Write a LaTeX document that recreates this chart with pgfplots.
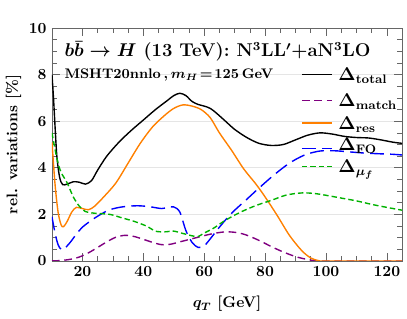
\documentclass[border=0pt]{standalone}
\usepackage{pgfplots}
\pgfplotsset{compat=1.18}
\definecolor{myorange}{rgb}{1,0.5,0}
\definecolor{mypurple}{rgb}{0.5,0,0.5}
\definecolor{myblue}{rgb}{0,0,1}
\definecolor{mygreen}{rgb}{0,0.7,0}
\tikzset{
  sTotal/.style={color=black, line width=0.9pt},
  sMatch/.style={color=mypurple, line width=0.9pt, dash pattern=on 5pt off 3pt},
  sRes/.style={color=myorange, line width=0.9pt},
  sFO/.style={color=myblue, line width=0.9pt, dash pattern=on 9pt off 4pt},
  sMu/.style={color=mygreen, line width=0.9pt, dash pattern=on 3.5pt off 2pt},
  legtext/.style={anchor=base west, font=\large\bfseries\boldmath, inner sep=0pt, text=black},
}
\begin{document}
\begin{tikzpicture}[font=\bfseries\boldmath]
\begin{axis}[
  scale only axis,
  width=227pt, height=151pt,
  xmin=10, xmax=125, ymin=0, ymax=10,
  xtick={20,40,60,80,100,120},
  ytick={0,2,4,6,8,10},
  minor x tick num=3, minor y tick num=3,
  tick align=inside,
  major tick length=5pt, minor tick length=3pt,
  every tick/.style={black!60},
  axis line style={black!60},
  ymajorgrids, grid style={black!10},
  xlabel={$q_T$ [GeV]}, ylabel={rel. variations [\%]},
  tick label style={font=\normalsize\bfseries\boldmath},
  label style={font=\normalsize\bfseries\boldmath},
  xlabel style={yshift=-6pt},
  ylabel style={yshift=-2pt},
]
\addplot[smooth, tension=0.5, sTotal] coordinates {(10,8.0) (10.5,7.0) (11,5.8) (11.6,4.5) (12.5,3.6) (13.5,3.28) (15,3.3) (17,3.4) (19,3.38) (21,3.3) (23,3.45) (25,3.9) (28,4.5) (32,5.1) (36,5.6) (40,6.05) (44,6.5) (48,6.9) (50,7.1) (52,7.2) (54,7.1) (56,6.85) (58,6.72) (60,6.65) (62,6.55) (64,6.35) (67,6.0) (70,5.65) (74,5.3) (78,5.05) (82,4.96) (86,5.0) (90,5.2) (94,5.4) (98,5.5) (102,5.45) (106,5.35) (110,5.3) (114,5.28) (118,5.2) (122,5.1) (125,5.05)};
\addplot[smooth, tension=0.5, sMatch] coordinates {(10,0) (13,0.02) (16,0.07) (19,0.17) (22,0.35) (25,0.58) (28,0.82) (31,1.02) (34,1.1) (37,1.05) (40,0.93) (43,0.8) (46,0.7) (49,0.72) (52,0.82) (55,0.92) (58,1.02) (61,1.12) (64,1.2) (67,1.25) (70,1.23) (73,1.15) (76,1.0) (79,0.82) (82,0.62) (85,0.44) (88,0.28) (91,0.15) (94,0.06) (97,0.0) (100,0) (125,0)};
\addplot[smooth, tension=0.5, sRes] coordinates {(10,5.1) (11,3.3) (12,2.1) (13,1.55) (13.8,1.47) (15,1.7) (16.5,2.1) (18,2.3) (20,2.25) (22,2.2) (24,2.35) (27,2.75) (31,3.35) (35,4.2) (39,5.05) (43,5.75) (47,6.25) (50,6.55) (53,6.7) (56,6.65) (59,6.5) (62,6.15) (65,5.5) (69,4.75) (73,3.95) (77,3.3) (80,2.75) (84,1.95) (88,1.1) (92,0.45) (95,0.13) (98,0) (100,0) (125,0)};
\addplot[smooth, tension=0.5, sFO] coordinates {(10,1.9) (11,1.2) (12,0.7) (13,0.5) (14,0.52) (16,0.8) (18,1.15) (20,1.45) (23,1.75) (26,2.0) (29,2.2) (33,2.32) (38,2.37) (42,2.33) (46,2.25) (48,2.3) (50,2.32) (52,2.1) (54,1.3) (56,0.8) (58,0.58) (60,0.65) (62,0.95) (65,1.45) (69,2.05) (74,2.65) (78,3.13) (83,3.7) (88,4.2) (93,4.55) (98,4.72) (103,4.73) (108,4.68) (113,4.63) (118,4.6) (122,4.58) (125,4.55)};
\addplot[smooth, tension=0.5, sMu] coordinates {(10,5.5) (11,4.8) (12,4.2) (13,3.8) (15,3.35) (17,2.75) (19,2.35) (21,2.12) (24,2.05) (29,2.0) (33,1.85) (37,1.7) (41,1.5) (44,1.28) (47,1.25) (50,1.28) (53,1.18) (56,1.08) (58,1.05) (60,1.2) (63,1.4) (67,1.75) (72,2.1) (77,2.38) (82,2.6) (87,2.83) (92,2.92) (96,2.9) (100,2.82) (105,2.7) (110,2.58) (115,2.43) (120,2.3) (125,2.18)};
\coordinate (LA) at (rel axis cs:0.714,0.80);
\coordinate (LB) at (rel axis cs:0.714,0.688);
\coordinate (LC) at (rel axis cs:0.714,0.592);
\coordinate (LD) at (rel axis cs:0.714,0.500);
\coordinate (LDl) at (rel axis cs:0.714,0.482);
\coordinate (LE) at (rel axis cs:0.714,0.405);
\coordinate (T1) at (rel axis cs:0.035,0.945);
\coordinate (T2) at (rel axis cs:0.035,0.825);
\end{axis}
% legend lines first, drawn on top of everything
\begin{scope}
\draw[sTotal] (LA) -- ++(19.5pt,0);
\end{scope}
\begin{scope}
\draw[sMatch] (LB) -- ++(19.5pt,0);
\end{scope}
\begin{scope}
\draw[sRes] (LC) -- ++(19.5pt,0);
\end{scope}
\begin{scope}
\draw[sFO] (LDl) -- ++(19.5pt,0);
\end{scope}
\begin{scope}
\draw[sMu] (LE) -- ++(19.5pt,0);
\end{scope}
% legend texts
\node[legtext] at ([xshift=23.5pt,yshift=-4pt]LA) {$\Delta_{\mathbf{total}}$};
\node[legtext] at ([xshift=23.5pt,yshift=-4pt]LB) {$\Delta_{\mathbf{match}}$};
\node[legtext] at ([xshift=23.5pt,yshift=-4pt]LC) {$\Delta_{\mathbf{res}}$};
\node[legtext] at ([xshift=23.5pt,yshift=-4pt]LD) {$\Delta_{\mathbf{FO}}$};
\node[legtext] at ([xshift=23.5pt,yshift=-4pt]LE) {$\Delta_{\mu_f}$};
% titles
\node[anchor=north west, font=\large\bfseries\boldmath, inner sep=0pt] at (T1) {$b\bar{b}\to H$ (13 TeV): N$^3$LL$'$+aN$^3$LO};
\node[anchor=north west, font=\small\bfseries\boldmath, inner sep=0pt] at (T2) {MSHT20nnlo$\,,m_H\!=\!125\,$GeV};
\pgfresetboundingbox
\path[use as bounding box] ([xshift=-33.7pt,yshift=-37pt]current axis.south west) rectangle ([xshift=3.2pt,yshift=18.2pt]current axis.north east);
\end{tikzpicture}
\end{document}
